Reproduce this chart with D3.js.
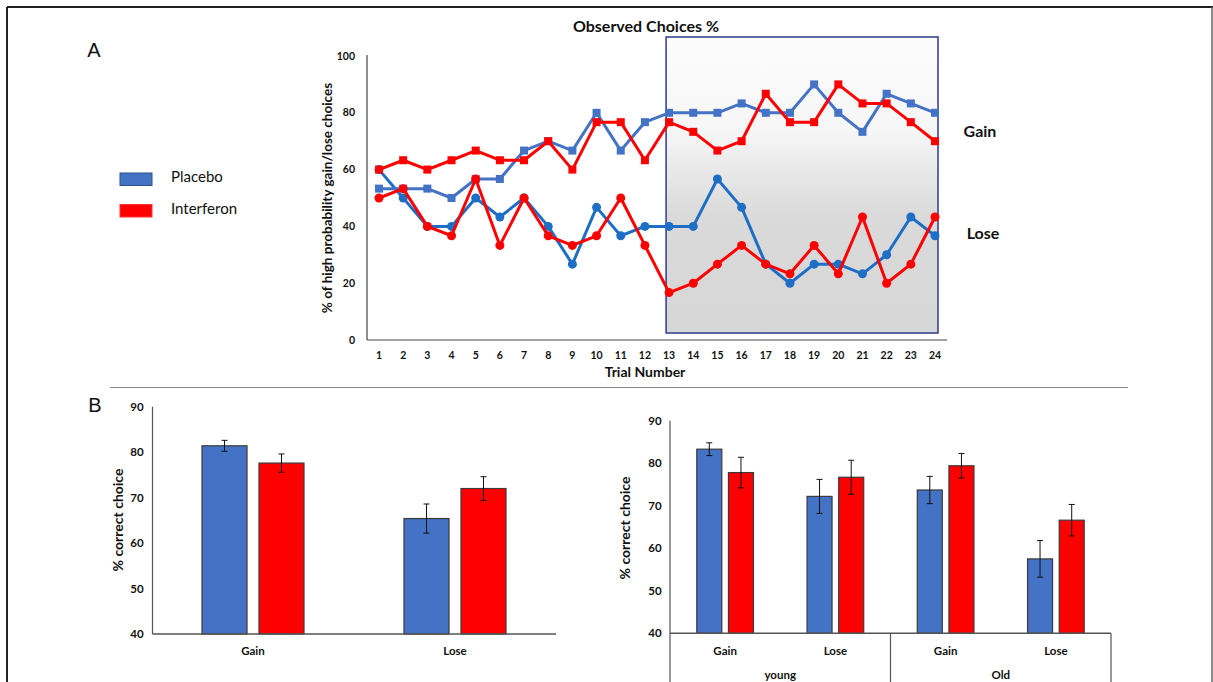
<!DOCTYPE html>
<html>
<head>
<meta charset="utf-8">
<script src="https://cdn.jsdelivr.net/npm/d3@7"></script>
<style>
  html, body { margin: 0; padding: 0; background: #fff; }
  svg { display: block; }
  text { font-family: Lato, "Open Sans", sans-serif; fill: #111; }
</style>
</head>
<body>
<svg id="fig" width="1213" height="682"></svg>
<script>
// ---- Panel A: observed choices per trial ----
const trials = d3.range(1, 25);
const placeboGain = [53.3,53.3,53.3,50,56.7,56.7,66.7,70,66.7,80,66.7,76.7,80,80,80,83.3,80,80,90,80,73.3,86.7,83.3,80];
const interferonGain = [60,63.3,60,63.3,66.7,63.3,63.3,70,60,76.7,76.7,63.3,76.7,73.3,66.7,70,86.7,76.7,76.7,90,83.3,83.3,76.7,70];
const placeboLose = [60,50,40,40,50,43.3,50,40,26.7,46.7,36.7,40,40,40,56.7,46.7,26.7,20,26.7,26.7,23.3,30,43.3,36.7];
const interferonLose = [50,53.3,40,36.7,56.7,33.3,50,36.7,33.3,36.7,50,33.3,16.7,20,26.7,33.3,26.7,23.3,33.3,23.3,43.3,20,26.7,43.3];
const yTicksA = [0, 20, 40, 60, 80, 100];

// ---- Panel B (left): overall correct choice ----
const conditions = ["Gain", "Lose"];
const groups = ["Placebo", "Interferon"];
const overallMean = { Placebo: [81.4, 65.4], Interferon: [77.6, 72.0] };
const overallErr  = { Placebo: [1.2, 3.2],  Interferon: [2.0, 2.6] };

// ---- Panel B (right): correct choice by age ----
const ageGroups = ["young", "Old"];
const ageConditions = ["Gain", "Lose", "Gain", "Lose"];
const ageMean = { Placebo: [83.3, 72.2, 73.7, 57.5], Interferon: [77.8, 76.7, 79.4, 66.6] };
const ageErr  = { Placebo: [1.5, 4.0, 3.2, 4.3],     Interferon: [3.6, 4.0, 2.9, 3.7] };
const yTicksB = [40, 50, 60, 70, 80, 90];

const colors = { Placebo: "#4472c4", Interferon: "#ff0000" };

const svg = d3.select("#fig");

// outer frame
svg.append("line").attr("x1", 7).attr("x2", 1213).attr("y1", 7).attr("y2", 7)
  .attr("stroke", "#222").attr("stroke-width", 2);
svg.append("line").attr("x1", 7).attr("x2", 7).attr("y1", 7).attr("y2", 690)
  .attr("stroke", "#222").attr("stroke-width", 2);
svg.append("line").attr("x1", 1212).attr("x2", 1212).attr("y1", 7).attr("y2", 690)
  .attr("stroke", "#666").attr("stroke-width", 1.5);

// panel letters
svg.append("text").attr("x", 94).attr("y", 57).attr("text-anchor", "middle")
  .style("font-family", "'Liberation Sans', Arial, sans-serif").style("font-size", "20px").text("A");
svg.append("text").attr("x", 95).attr("y", 412).attr("text-anchor", "middle")
  .style("font-family", "'Liberation Sans', Arial, sans-serif").style("font-size", "20px").text("B");

// divider between panels
svg.append("line").attr("x1", 110).attr("x2", 1128).attr("y1", 387.5).attr("y2", 387.5)
  .attr("stroke", "#888").attr("stroke-width", 1.2);

// ---------- Panel A ----------
const xA = d3.scaleLinear().domain([1, 24]).range([379, 935]);
const yA = d3.scaleLinear().domain([0, 100]).range([340, 56]);

// shaded region for the second half of trials
const defs = svg.append("defs");
const grad = defs.append("linearGradient").attr("id", "shade")
  .attr("x1", 0).attr("x2", 0).attr("y1", 0).attr("y2", 1);
grad.append("stop").attr("offset", "0%").attr("stop-color", "#fcfcfc");
grad.append("stop").attr("offset", "32%").attr("stop-color", "#f6f6f6");
grad.append("stop").attr("offset", "60%").attr("stop-color", "#dadada");
grad.append("stop").attr("offset", "100%").attr("stop-color", "#d6d6d6");

const shadeLeft = xA(13) - 3;
const shadeRight = xA(24) + 3;
svg.append("rect")
  .attr("x", shadeLeft).attr("y", 37)
  .attr("width", shadeRight - shadeLeft).attr("height", 296)
  .attr("fill", "url(#shade)").attr("stroke", "#2e3b8f").attr("stroke-width", 1.5);

// axes
svg.append("line").attr("x1", 367).attr("x2", 367).attr("y1", yA(100) - 1).attr("y2", yA(0))
  .attr("stroke", "#444").attr("stroke-width", 1.2);
svg.append("line").attr("x1", 367).attr("x2", 947).attr("y1", yA(0)).attr("y2", yA(0))
  .attr("stroke", "#444").attr("stroke-width", 1.2);

svg.append("g").selectAll("text").data(yTicksA).join("text")
  .attr("x", 355).attr("y", d => yA(d)).attr("dy", "0.35em").attr("text-anchor", "end")
  .style("font-size", "10.5px").style("font-weight", "bold").text(d => d);

svg.append("g").selectAll("text").data(trials).join("text")
  .attr("x", d => xA(d)).attr("y", 355).attr("dy", "0.35em").attr("text-anchor", "middle")
  .style("font-size", "10.5px").style("font-weight", "bold").text(d => d);

svg.append("text").attr("x", 645).attr("y", 372).attr("dy", "0.35em").attr("text-anchor", "middle")
  .style("font-size", "14px").style("font-weight", "bold").text("Trial Number");

svg.append("text").attr("transform", "translate(327,198) rotate(-90)")
  .attr("dy", "0.35em").attr("text-anchor", "middle")
  .style("font-size", "13.5px").style("font-weight", "bold")
  .text("% of high probability gain/lose choices");

svg.append("text").attr("x", 646).attr("y", 26).attr("dy", "0.35em").attr("text-anchor", "middle")
  .style("font-size", "16px").style("font-weight", "bold").text("Observed Choices %");

const lineGen = d3.line().x((d, i) => xA(trials[i])).y(d => yA(d));

const seriesA = [
  { values: placeboLose, color: "#1e6ec6", shape: "circle" },
  { values: placeboGain, color: "#4472c4", shape: "square" },
  { values: interferonGain, color: "#ff0000", shape: "square" },
  { values: interferonLose, color: "#ff0000", shape: "circle" }
];

seriesA.forEach(s => {
  const g = svg.append("g");
  g.append("path").datum(s.values).attr("d", lineGen)
    .attr("fill", "none").attr("stroke", s.color).attr("stroke-width", 3)
    .attr("stroke-linejoin", "round");
  if (s.shape === "circle") {
    g.selectAll("circle").data(s.values).join("circle")
      .attr("cx", (d, i) => xA(trials[i])).attr("cy", d => yA(d)).attr("r", 4.5)
      .attr("fill", s.color);
  } else {
    g.selectAll("rect").data(s.values).join("rect")
      .attr("x", (d, i) => xA(trials[i]) - 4).attr("y", d => yA(d) - 4)
      .attr("width", 8).attr("height", 8).attr("fill", s.color);
  }
});

svg.append("text").attr("x", 980).attr("y", 131).attr("dy", "0.35em").attr("text-anchor", "middle")
  .style("font-size", "16px").style("font-weight", "bold").text("Gain");
svg.append("text").attr("x", 983).attr("y", 233).attr("dy", "0.35em").attr("text-anchor", "middle")
  .style("font-size", "16px").style("font-weight", "bold").text("Lose");

// legend
const legend = svg.append("g");
groups.forEach((g, i) => {
  legend.append("rect").attr("x", 120).attr("y", 173 + i * 31.5).attr("width", 32).attr("height", 12.5)
    .attr("fill", colors[g]).attr("stroke", i === 0 ? "#2f528f" : "#ff3030").attr("stroke-width", 1);
  legend.append("text").attr("x", 171).attr("y", 177 + i * 32).attr("dy", "0.35em")
    .style("font-size", "15px").text(g);
});

// ---------- Panel B helper ----------
function barPanel(opts) {
  const { x0, y, keys, labels, mean, err, axisX, tickX, labelX, labelY } = opts;
  const x1 = d3.scaleBand().domain(groups).range([0, x0.bandwidth()]).paddingInner(opts.innerPad);
  const g = svg.append("g");

  keys.forEach((k, ci) => {
    groups.forEach(grp => {
      const v = mean[grp][ci], e = err[grp][ci];
      const bx = x0(k) + x1(grp);
      g.append("rect").attr("x", bx).attr("y", y(v))
        .attr("width", x1.bandwidth()).attr("height", y(40) - y(v))
        .attr("fill", colors[grp]).attr("stroke", "#3a3a3a").attr("stroke-width", 1.2);
      const cx = bx + x1.bandwidth() / 2;
      g.append("line").attr("x1", cx).attr("x2", cx).attr("y1", y(v + e)).attr("y2", y(v - e))
        .attr("stroke", "#111").attr("stroke-width", 1);
      [v + e, v - e].forEach(t => g.append("line")
        .attr("x1", cx - 3).attr("x2", cx + 3).attr("y1", y(t)).attr("y2", y(t))
        .attr("stroke", "#111").attr("stroke-width", 1));
    });
    g.append("text").attr("x", x0(k) + x0.bandwidth() / 2).attr("y", 650.5).attr("dy", "0.35em")
      .attr("text-anchor", "middle").style("font-size", "11.5px").style("font-weight", "bold")
      .text(labels[ci]);
  });

  // axes
  g.append("line").attr("x1", axisX).attr("x2", axisX).attr("y1", y(90)).attr("y2", opts.axisBottom)
    .attr("stroke", "#555").attr("stroke-width", 1.2);
  g.append("line").attr("x1", axisX).attr("x2", opts.baseEnd).attr("y1", y(40)).attr("y2", y(40))
    .attr("stroke", "#555").attr("stroke-width", 1.5);
  g.selectAll(".tick").data(yTicksB).join("text")
    .attr("x", tickX).attr("y", d => y(d)).attr("dy", "0.35em").attr("text-anchor", "middle")
    .style("font-size", "11.5px").style("font-weight", "bold").text(d => d);
  g.append("text").attr("transform", `translate(${labelX},${labelY}) rotate(-90)`)
    .attr("dy", "0.35em").attr("text-anchor", "middle")
    .style("font-size", "14px").style("font-weight", "bold").text("% correct choice");
  return g;
}

// left bar chart
const x0L = d3.scaleBand().domain(conditions).range([152, 556]).paddingInner(0.495).paddingOuter(0.2475);
const yL = d3.scaleLinear().domain([40, 90]).range([634, 406.7]);
barPanel({
  x0: x0L, y: yL, keys: conditions, labels: conditions,
  mean: overallMean, err: overallErr, innerPad: 0.21,
  axisX: 152.5, axisBottom: 634, baseEnd: 556, tickX: 137, labelX: 118, labelY: 520
});

// right bar chart, grouped by age
const ageKeys = ["young-Gain", "young-Lose", "Old-Gain", "Old-Lose"];
const x0R = d3.scaleBand().domain(ageKeys).range([670, 1111]).paddingInner(0.486).paddingOuter(0.243);
const yR = d3.scaleLinear().domain([40, 90]).range([633.3, 420.7]);
const gR = barPanel({
  x0: x0R, y: yR, keys: ageKeys, labels: ageConditions,
  mean: ageMean, err: ageErr, innerPad: 0.21,
  axisX: 670, axisBottom: 690, baseEnd: 1111, tickX: 655, labelX: 625, labelY: 528
});
// age group separators and labels
const sepX = [x0R("Old-Gain") - x0R.step() * x0R.paddingInner() / 2, 1111];
sepX.forEach(sx => gR.append("line").attr("x1", sx).attr("x2", sx).attr("y1", yR(40)).attr("y2", 690)
  .attr("stroke", "#555").attr("stroke-width", 1.2));
ageGroups.forEach((a, i) => {
  const left = i === 0 ? 670 : sepX[0];
  const right = i === 0 ? sepX[0] : 1111;
  gR.append("text").attr("x", (left + right) / 2).attr("y", 675).attr("dy", "0.35em")
    .attr("text-anchor", "middle").style("font-size", "11.5px").style("font-weight", "bold").text(a);
});
</script>
</body>
</html>
